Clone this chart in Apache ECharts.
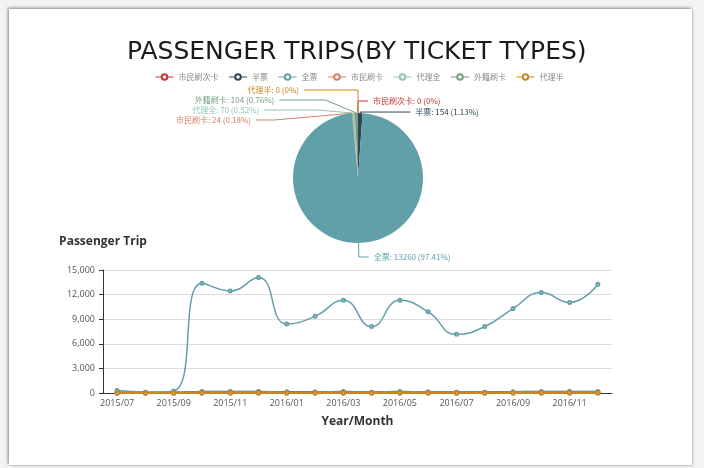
<!DOCTYPE html>
<html>
<head>
<meta charset="utf-8">
<script src="https://cdn.jsdelivr.net/npm/echarts@6/dist/echarts.min.js"></script>
<style>
  html, body { margin: 0; padding: 0; background: #f3f3f3; }
  #card { position: absolute; left: 9px; top: 9px; width: 683px; height: 456px; background: #fff;
          box-shadow: -1px -1px 3px rgba(0,0,0,0.45), 1px 1px 2px rgba(0,0,0,0.15); }
  #chart { position: absolute; left: 0; top: 0; width: 704px; height: 468px; }
</style>
</head>
<body>
<div id="card"></div>
<div id="chart"></div>
<script>
// Months on the x axis
const months = ['2015/07','2015/08','2015/09','2015/10','2015/11','2015/12',
  '2016/01','2016/02','2016/03','2016/04','2016/05','2016/06',
  '2016/07','2016/08','2016/09','2016/10','2016/11','2016/12'];

// Ticket types
const ticketTypes = ['市民刷次卡','半票','全票','市民刷卡','代理全','外籍刷卡','代理半'];

// Monthly passenger trips per ticket type
const tripsCitizenPass = [0,0,0,0,0,0,0,0,0,0,0,0,0,0,0,0,0,0];
const tripsHalf        = [60,40,50,150,140,160,110,120,140,100,140,120,90,100,130,150,140,154];
const tripsFull        = [300,120,250,13380,12450,14080,8400,9350,11300,8100,11300,9900,7150,8100,10300,12250,11050,13260];
const tripsCitizenCard = [0,0,0,20,22,25,15,18,20,14,20,18,12,15,18,22,20,24];
const tripsAgentFull   = [0,0,0,60,58,66,40,45,55,40,55,48,35,40,50,60,55,70];
const tripsForeign     = [0,0,0,100,95,110,65,70,85,60,85,75,55,62,80,95,85,104];
const tripsAgentHalf   = [0,0,0,0,0,0,0,0,0,0,0,0,0,0,0,0,0,0];

// Latest month breakdown for the pie
const latestIndex = months.length - 1;
const seriesData = [tripsCitizenPass, tripsHalf, tripsFull, tripsCitizenCard, tripsAgentFull, tripsForeign, tripsAgentHalf];

const palette = ['#c23531','#2f4554','#61a0a8','#d48265','#91c7ae','#749f83','#ca8622'];

// Leader-line lengths per slice label (radial part, horizontal part)
const leaderLengths = [[12, 10], [1, 50], [14, 10], [0, 58], [7, 53], [16, 46], [23, 54]];

const yTicks = { min: 0, max: 15000, interval: 3000 };

const chart = echarts.init(document.getElementById('chart'), null, { renderer: 'canvas' });

const lineSeries = ticketTypes.map((name, i) => ({
  name: name,
  type: 'line',
  smooth: true,
  symbol: 'emptyCircle',
  symbolSize: 3,
  data: seriesData[i],
  lineStyle: { width: i === 2 ? 1.5 : 2 },
  z: i === 6 ? 5 : (i === 2 ? 4 : 3)
}));

const pieSeries = {
  name: 'ticket',
  type: 'pie',
  center: [358, 178],
  radius: 65,
  startAngle: 89.99,
  endAngle: -269.98,
  data: ticketTypes.map((name, i) => ({
    name: name,
    value: seriesData[i][latestIndex],
    label: { color: palette[i] },
    labelLine: { length: leaderLengths[i][0], length2: leaderLengths[i][1] }
  })),
  label: {
    formatter: '{b}: {c} ({d}%)',
    fontSize: 8,
    lineHeight: 6,
    fontFamily: 'Noto Sans CJK SC'
  },
  labelLine: { lineStyle: { width: 1 } },
  emphasis: { scale: false }
};

chart.setOption({
  color: palette,
  animation: false,
  title: {
    text: 'PASSENGER TRIPS(BY TICKET TYPES)',
    left: 122,
    top: 35,
    textStyle: { fontFamily: 'DejaVu Sans', fontSize: 25, fontWeight: 'normal', color: '#1a1a1a' }
  },
  legend: {
    data: ticketTypes,
    top: 68,
    left: 150,
    itemWidth: 18,
    itemHeight: 7,
    itemGap: 10,
    lineStyle: { width: 1 },
    textStyle: { fontSize: 8, color: '#888', fontFamily: 'Noto Sans CJK SC' }
  },
  grid: { left: 103, right: 92, top: 270, bottom: 75 },
  xAxis: {
    type: 'category',
    data: months,
    name: 'Year/Month',
    nameLocation: 'middle',
    nameGap: 23,
    nameTextStyle: { fontSize: 12, fontWeight: 'bold', color: '#333', fontFamily: 'Open Sans' },
    axisLine: { lineStyle: { color: '#333', width: 1 } },
    axisTick: { show: false },
    axisLabel: { interval: 1, fontSize: 9, color: '#555', margin: 6, fontFamily: 'Open Sans' }
  },
  yAxis: {
    type: 'value',
    min: yTicks.min,
    max: yTicks.max,
    interval: yTicks.interval,
    name: 'Passenger Trip',
    nameGap: 22,
    nameTextStyle: { fontSize: 12, fontWeight: 'bold', color: '#333', fontFamily: 'Open Sans' },
    axisLine: { show: true, lineStyle: { color: '#333', width: 1 } },
    axisTick: { show: true, length: 4 },
    axisLabel: { fontSize: 9, color: '#555', fontFamily: 'Open Sans' },
    splitLine: { lineStyle: { color: '#ddd' } }
  },
  series: lineSeries.concat([pieSeries])
});
</script>
</body>
</html>
